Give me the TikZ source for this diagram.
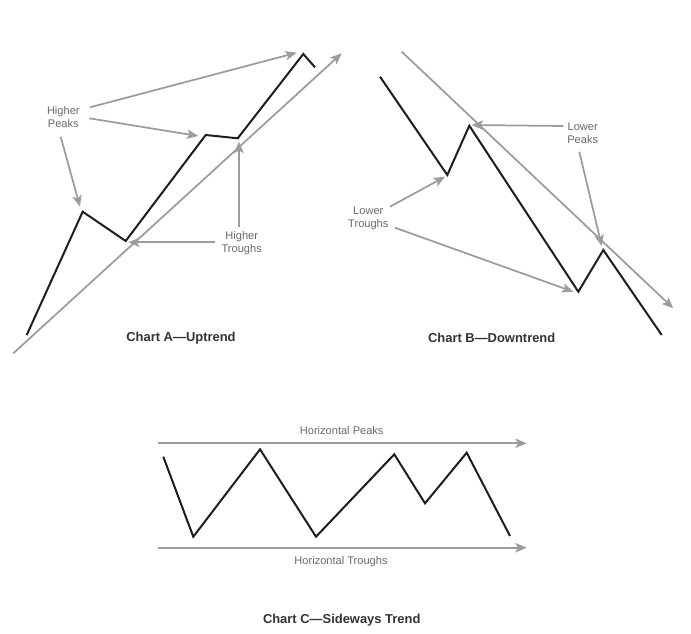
\documentclass[tikz,border=0pt]{standalone}
\usepackage{fontspec}
\setmainfont{Liberation Sans}
\usetikzlibrary{arrows.meta}
\definecolor{arrgray}{HTML}{9C9C9C}
\definecolor{txtgray}{HTML}{6A6A6A}
\definecolor{pricecol}{HTML}{1E1E1E}
\definecolor{titlecol}{HTML}{333333}
\tikzset{
  price/.style={draw=pricecol, line width=1.5pt, line join=miter},
  pointer/.style={draw=arrgray, line width=1.3pt, -{Stealth[length=8.5pt,width=7pt,inset=2pt]}},
  trendln/.style={draw=arrgray, line width=1.3pt, -{Stealth[length=8.5pt,width=7pt,inset=2pt]}},
  lbl/.style={text=txtgray, font=\fontsize{8.3}{10}\selectfont, align=center, inner sep=0pt},
  ttl/.style={text=titlecol, font=\fontsize{9.7}{11}\selectfont\bfseries, inner sep=0pt}
}
\begin{document}
\begin{tikzpicture}[x=0.75pt,y=-0.75pt]
\useasboundingbox (0,0) rectangle (691,633);
\fill[white] (0,0) rectangle (691,633);

% ---------- Chart A ----------
\coordinate (a1) at (26.7,335);
\coordinate (a2) at (82.7,211.7);
\coordinate (a3) at (125.7,241);
\coordinate (a4) at (205.7,135);
\coordinate (a5) at (237.7,138.3);
\coordinate (a6) at (303.3,54);
\coordinate (a7) at (315,67.3);
\coordinate (atS) at (13.3,353.3);
\coordinate (atE) at (341.7,53.3);
\draw[trendln] (atS) -- (atE);
\draw[price] (a1) -- (a2) -- (a3) -- (a4) -- (a5) -- (a6) -- (a7);

\node[lbl] (hp) at (63.3,117.3) {Higher\\Peaks};
\coordinate (hpT1) at (296.7,52.7);
\coordinate (hpT2) at (198.3,136);
\coordinate (hpT3) at (80,206.7);
\draw[pointer] (90,107.3) -- (hpT1);
\draw[pointer] (89.3,118.3) -- (hpT2);
\draw[pointer] (60.7,136.7) -- (hpT3);

\node[lbl] (ht) at (241.7,243.3) {Higher\\Troughs};
\coordinate (htT1) at (128.3,242.3);
\coordinate (htT2) at (239,141.7);
\draw[pointer] (215,242.3) -- (htT1);
\draw[pointer] (239,226.7) -- (htT2);

\node[ttl] (ta) at (181,338.3) {Chart A—Uptrend};

% ---------- Chart B ----------
\coordinate (b1) at (380,76.7);
\coordinate (b2) at (447.3,175);
\coordinate (b3) at (469.3,125.7);
\coordinate (b4) at (578.3,291.7);
\coordinate (b5) at (603.3,250);
\coordinate (b6) at (661.7,335);
\coordinate (btS) at (401.7,51.7);
\coordinate (btE) at (673.3,308.3);
\draw[trendln] (btS) -- (btE);
\draw[price] (b1) -- (b2) -- (b3) -- (b4) -- (b5) -- (b6);

\node[lbl] (lp) at (582.7,133.3) {Lower\\Peaks};
\coordinate (lpT1) at (471.7,125);
\coordinate (lpT2) at (601.7,246);
\draw[pointer] (563.3,126) -- (lpT1);
\draw[pointer] (579.3,151.7) -- (lpT2);

\node[lbl] (lt) at (368.3,218.3) {Lower\\Troughs};
\coordinate (ltT1) at (445,176.7);
\coordinate (ltT2) at (573.3,291.7);
\draw[pointer] (390,206.7) -- (ltT1);
\draw[pointer] (395,227.7) -- (ltT2);

\node[ttl] (tb) at (491.7,338.3) {Chart B—Downtrend};

% ---------- Chart C ----------
\coordinate (cpS) at (158.3,443.3);
\coordinate (cpE) at (526.7,443.3);
\coordinate (ctS) at (158.3,547.7);
\coordinate (ctE) at (526.7,547.7);
\draw[trendln] (cpS) -- (cpE);
\draw[trendln] (ctS) -- (ctE);
\node[lbl] (hpk) at (341.7,430.7) {Horizontal Peaks};
\node[lbl] (htr) at (341,561.7) {Horizontal Troughs};

\coordinate (c1) at (163.3,456.7);
\coordinate (c2) at (193.3,536.7);
\coordinate (c3) at (260,449.3);
\coordinate (c4) at (316,536.7);
\coordinate (c5) at (394.3,454.3);
\coordinate (c6) at (425,503.3);
\coordinate (c7) at (466.7,452.7);
\coordinate (c8) at (510,536);
\draw[price] (c1) -- (c2) -- (c3) -- (c4) -- (c5) -- (c6) -- (c7) -- (c8);

\node[ttl] (tc) at (341.7,620) {Chart C—Sideways Trend};
\end{tikzpicture}
\end{document}
